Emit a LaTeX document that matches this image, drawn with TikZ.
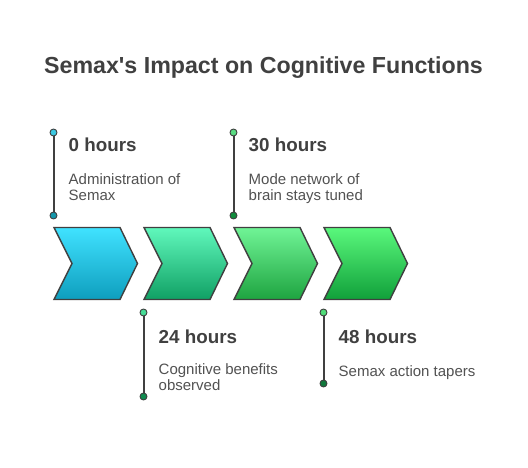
\documentclass[tikz,border=0pt]{standalone}
\usepackage{fontspec}
\setmainfont{Liberation Sans}
\begin{document}
\begin{tikzpicture}[x=1pt,y=-1pt,
  chev/.style={draw=black!75,line width=1.4pt,line join=miter},
  dot/.style={circle,inner sep=0pt,minimum size=7pt,draw=black!75,line width=0.9pt},
  tline/.style={draw=black!75,line width=2pt},
  head/.style={anchor=base west,inner sep=0pt,font=\fontsize{18.8}{20}\selectfont\bfseries,text=black!75},
  body/.style={anchor=base west,inner sep=0pt,font=\fontsize{15}{16.7}\selectfont,text=black!68,align=left},
]
\useasboundingbox (0,0) rectangle (528,468);
\fill[white] (0,0) rectangle (528,468);
\node[anchor=base,inner sep=0pt,font=\fontsize{23.2}{26}\selectfont\bfseries,text=black!75] (title) at (263.5,73.5) {Semax\textquotesingle s Impact on Cognitive Functions};

% chevrons
\shade[chev,top color={rgb,255:red,64;green,226;blue,255},bottom color={rgb,255:red,14;green,158;blue,190}]
  (54,227.5) -- (120,227.5) -- (137.5,263.5) -- (120,299.5) -- (54,299.5) -- (72,263.5) -- cycle;
\shade[chev,top color={rgb,255:red,96;green,248;blue,188},bottom color={rgb,255:red,16;green,160;blue,100}]
  (144,227.5) -- (210,227.5) -- (227.5,263.5) -- (210,299.5) -- (144,299.5) -- (162,263.5) -- cycle;
\shade[chev,top color={rgb,255:red,112;green,244;blue,150},bottom color={rgb,255:red,30;green,164;blue,64}]
  (234,227.5) -- (300,227.5) -- (317.5,263.5) -- (300,299.5) -- (234,299.5) -- (252,263.5) -- cycle;
\shade[chev,top color={rgb,255:red,90;green,248;blue,124},bottom color={rgb,255:red,16;green,160;blue,58}]
  (324,227.5) -- (390,227.5) -- (407.5,263.5) -- (390,299.5) -- (324,299.5) -- (342,263.5) -- cycle;

% timeline 1
\node[dot,fill={rgb,255:red,60;green,200;blue,225}] (a1) at (53.5,132.5) {};
\node[dot,fill={rgb,255:red,20;green,150;blue,170}] (a2) at (53.5,215.5) {};
\draw[tline] (a1) -- (a2);
\node[head] (h1) at (68.5,151.5) {0 hours};
\node[body] (b1) at (68.5,201) {Administration of\\Semax};

% timeline 2
\node[dot,fill={rgb,255:red,70;green,220;blue,150}] (c1) at (143.5,312.5) {};
\node[dot,fill={rgb,255:red,16;green,140;blue,80}] (c2) at (143.5,396.5) {};
\draw[tline] (c1) -- (c2);
\node[head] (h2) at (158.5,343.5) {24 hours};
\node[body] (b2) at (158.5,390.7) {Cognitive benefits\\observed};

% timeline 3
\node[dot,fill={rgb,255:red,90;green,220;blue,130}] (d1) at (233.5,132.5) {};
\node[dot,fill={rgb,255:red,16;green,140;blue,60}] (d2) at (233.5,215.5) {};
\draw[tline] (d1) -- (d2);
\node[head] (h3) at (248.5,151.5) {30 hours};
\node[body] (b3) at (248.5,201) {Mode network of\\brain stays tuned};

% timeline 4
\node[dot,fill={rgb,255:red,80;green,220;blue,120}] (e1) at (323.5,312.5) {};
\node[dot,fill={rgb,255:red,16;green,120;blue,60}] (e2) at (323.5,383.5) {};
\draw[tline] (e1) -- (e2);
\node[head] (h4) at (338.5,343.5) {48 hours};
\node[body] (b4) at (338.5,376) {Semax action tapers};
\end{tikzpicture}
\end{document}
